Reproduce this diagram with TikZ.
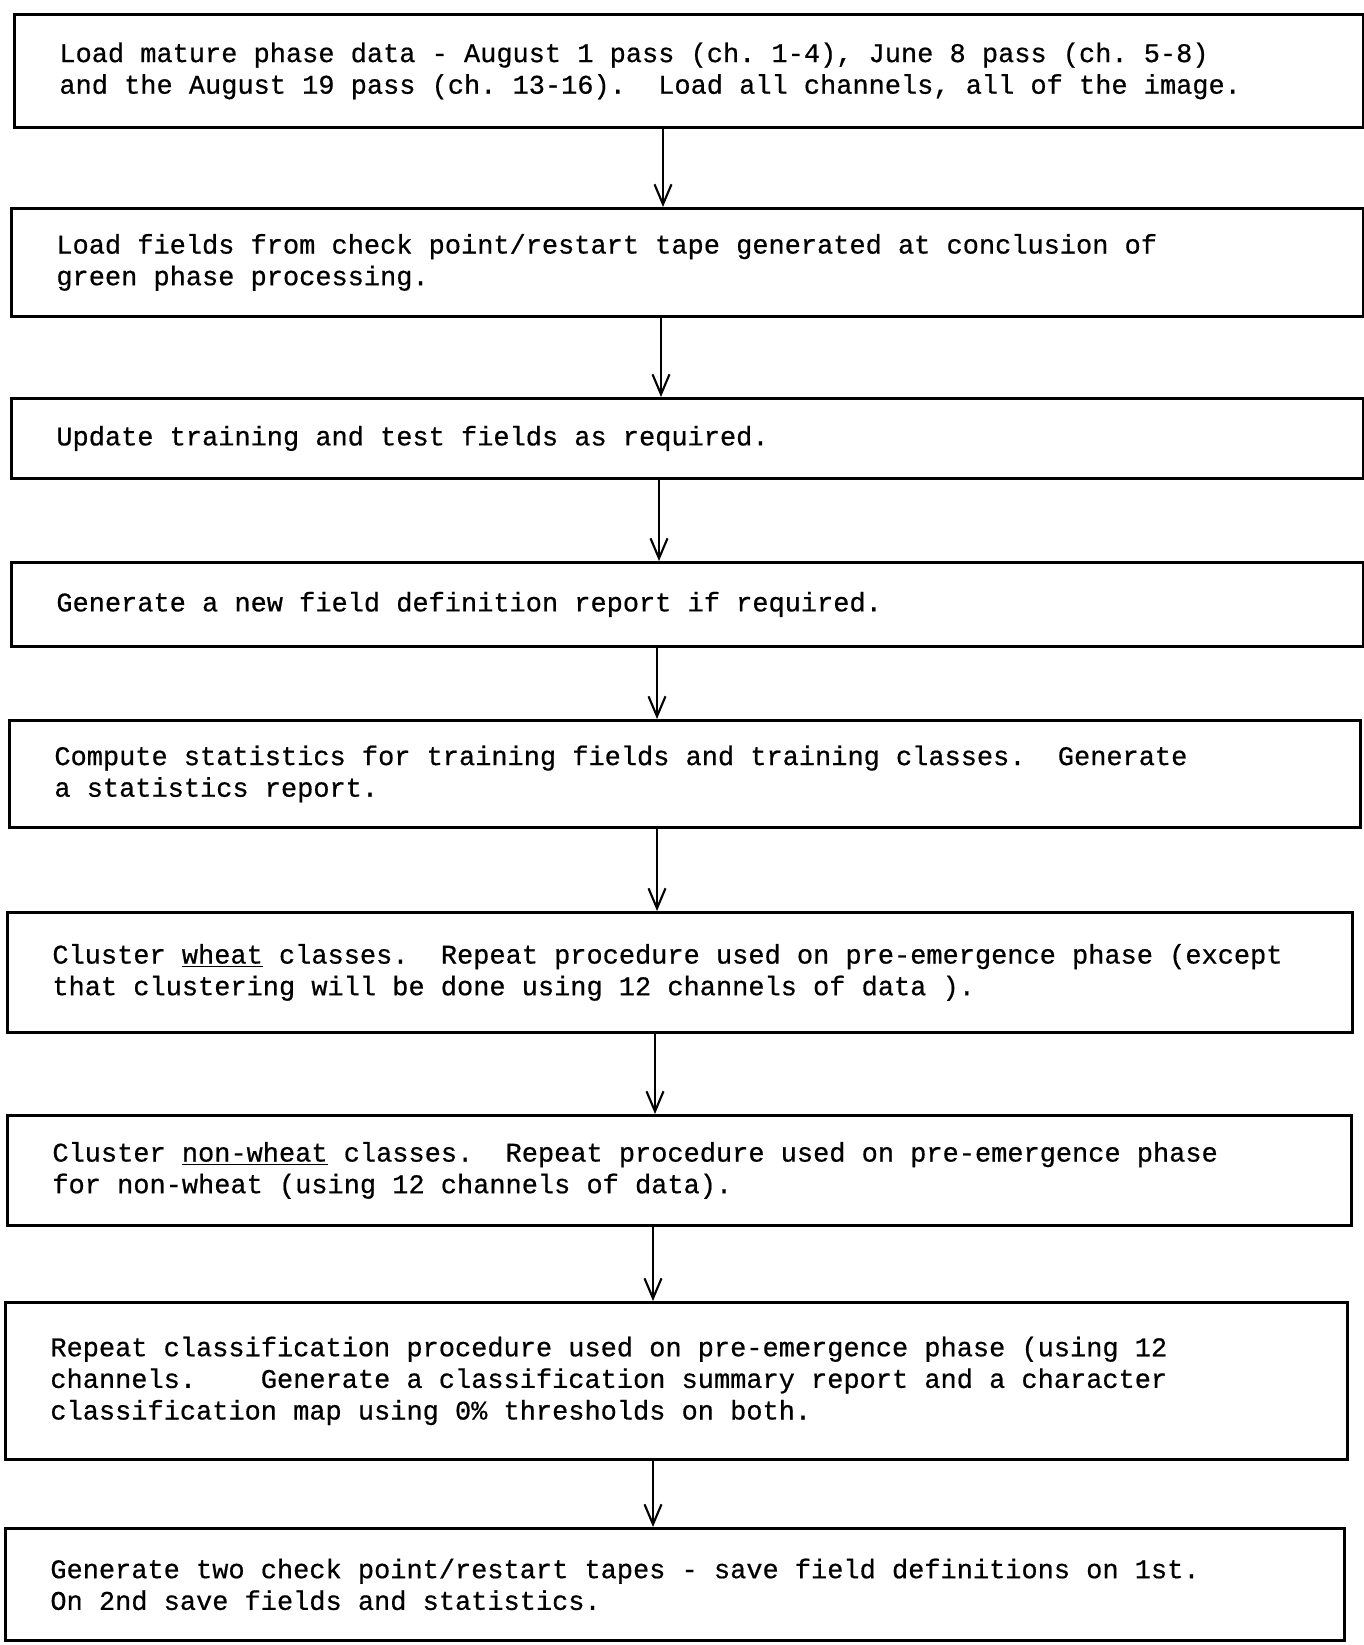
\documentclass[tikz,border=0pt]{standalone}
\usepackage{fontspec}
\setmonofont{Liberation Mono}[FakeBold=0.6]
\usepackage{tikz}
\usetikzlibrary{arrows.meta}

\begin{document}
\begin{tikzpicture}[
  font=\ttfamily\fontsize{15.35}{18}\selectfont,
  stepbox/.style={draw, line width=1.6pt, rectangle, anchor=north west,
    inner xsep=0.9cm, inner ysep=4pt, align=left,
    execute at begin node={\fontdimen2\font=0.6em\fontdimen3\font=0pt\fontdimen4\font=0pt
      \spaceskip=0.6em\xspaceskip=0.6em\relax}},
  flow/.style={line width=1.2pt, -{Straight Barb[length=0.4cm, width=0.34cm, line width=1.2pt]}}
]
  \useasboundingbox (0,0) rectangle (27.28,-32.9);

  % --- processing steps ---
  \node[stepbox, text width=25.18cm, minimum height=2.26cm] (load) at (0.26,-0.26)
    {Load mature phase data - August 1 pass (ch. 1-4), June 8 pass (ch. 5-8)\\
     and the August 19 pass (ch. 13-16).\ \ Load all channels, all of the image.};
  \node[stepbox, text width=25.24cm, minimum height=2.16cm] (fields) at (0.20,-4.14)
    {Load fields from check point/restart tape generated at conclusion of\\
     green phase processing.};
  \node[stepbox, text width=25.24cm, minimum height=1.60cm] (update) at (0.20,-7.94)
    {Update training and test fields as required.};
  \node[stepbox, text width=25.24cm, minimum height=1.68cm] (report) at (0.20,-11.22)
    {Generate a new field definition report if required.};
  \node[stepbox, text width=25.22cm, minimum height=2.14cm] (stats) at (0.16,-14.38)
    {Compute statistics for training fields and training classes.\ \ Generate\\
     a statistics report.};
  \node[stepbox, text width=25.10cm, minimum height=2.40cm] (wheat) at (0.12,-18.22)
    {Cluster \underline{wheat} classes.\ \ Repeat procedure used on pre-emergence phase (except\\
     that clustering will be done using 12 channels of data ).};
  \node[stepbox, text width=25.08cm, minimum height=2.20cm] (nonwheat) at (0.12,-22.28)
    {Cluster \underline{non-wheat} classes.\ \ Repeat procedure used on pre-emergence phase\\
     for non-wheat (using 12 channels of data).};
  \node[stepbox, text width=25.04cm, minimum height=3.14cm] (classify) at (0.08,-26.02)
    {Repeat classification procedure used on pre-emergence phase (using 12\\
     channels.\ \ \ \ Generate a classification summary report and a character\\
     classification map using 0\% thresholds on both.};
  \node[stepbox, text width=24.98cm, minimum height=2.24cm] (tapes) at (0.08,-30.54)
    {Generate two check point/restart tapes - save field definitions on 1st.\\
     On 2nd save fields and statistics.};

  % --- arrows between steps ---
  \foreach \a/\b/\x in {load/fields/13.26, fields/update/13.22, update/report/13.18,
      report/stats/13.14, stats/wheat/13.14, wheat/nonwheat/13.10,
      nonwheat/classify/13.06, classify/tapes/13.06}
    \draw[flow] (\a.south -| \x,0) -- (\b.north -| \x,0);
\end{tikzpicture}
\end{document}
